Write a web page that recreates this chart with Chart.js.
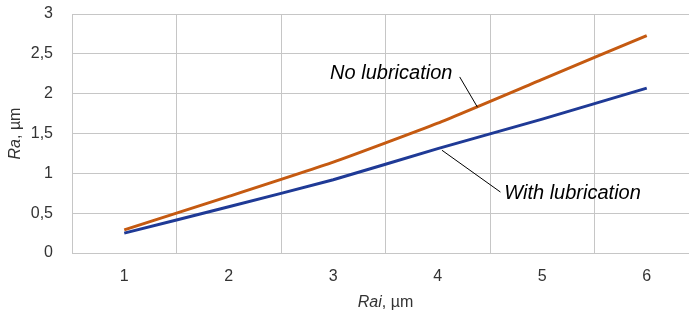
<!DOCTYPE html>
<html>
<head>
<meta charset="utf-8">
<script src="https://cdn.jsdelivr.net/npm/chart.js@4"></script>
<style>
  html, body { margin: 0; padding: 0; background: #fff; overflow: hidden; }
  #wrap { position: relative; width: 700px; height: 321px; }
</style>
</head>
<body>
<div id="wrap"><canvas id="grafica"></canvas></div>
<script>
// data
var rai = ['1', '2', '3', '4', '5', '6'];
var noLubrication = [0.29, 0.71, 1.14, 1.63, 2.18, 2.73];
var withLubrication = [0.25, 0.58, 0.92, 1.31, 1.68, 2.07];
var yTicks = [0, 0.5, 1, 1.5, 2, 2.5, 3];

// labels on the plot, in data units (x = Rai, y = Ra)
var notes = [
  { text: 'No lubrication', x: 3.555, y: 2.26, from: [4.21, 2.21], to: [4.38, 1.83] },
  { text: 'With lubrication', x: 5.29, y: 0.75, from: [4.60, 0.765], to: [4.04, 1.29] }
];

var fuente = 'Liberation Sans, Arial, sans-serif';
var gris = '#c6c6c6';
var texto = '#333';

// italic symbol + plain unit, centred on (x, y)
function tituloMixto(ctx, x, y, sym, unit) {
  ctx.font = 'italic 16px ' + fuente;
  var w1 = ctx.measureText(sym).width;
  ctx.font = '16px ' + fuente;
  var w2 = ctx.measureText(unit).width;
  var x0 = x - (w1 + w2) / 2;
  ctx.textAlign = 'left';
  ctx.textBaseline = 'middle';
  ctx.fillStyle = texto;
  ctx.font = 'italic 16px ' + fuente;
  ctx.fillText(sym, x0, y);
  ctx.font = '16px ' + fuente;
  ctx.fillText(unit, x0 + w1, y);
}

var notasPlugin = {
  id: 'notas',
  afterDatasetsDraw: function(chart) {
    var ctx = chart.ctx;
    var sx = chart.scales.x, sy = chart.scales.y;
    var area = chart.chartArea;
    ctx.save();
    notes.forEach(function(n) {
      ctx.strokeStyle = '#000';
      ctx.lineWidth = 1;
      ctx.beginPath();
      ctx.moveTo(sx.getPixelForValue(n.from[0] - 1), sy.getPixelForValue(n.from[1]));
      ctx.lineTo(sx.getPixelForValue(n.to[0] - 1), sy.getPixelForValue(n.to[1]));
      ctx.stroke();
      ctx.fillStyle = '#000';
      ctx.font = 'italic 20px ' + fuente;
      ctx.textAlign = 'center';
      ctx.textBaseline = 'middle';
      ctx.fillText(n.text, sx.getPixelForValue(n.x - 1), sy.getPixelForValue(n.y));
    });
    // axis titles
    tituloMixto(ctx, (area.left + area.right) / 2, area.bottom + 50, 'Rai', ', µm');
    ctx.translate(16, (area.top + area.bottom) / 2);
    ctx.rotate(-Math.PI / 2);
    tituloMixto(ctx, 0, 0, 'Ra', ', µm');
    ctx.restore();
  }
};

var ctx = document.getElementById('grafica').getContext('2d');
var chart = new Chart(ctx, {
  type: 'line',
  data: {
    labels: rai,
    datasets: [{
      label: 'No lubrication',
      data: noLubrication,
      borderColor: '#C55A11',
      borderWidth: 3,
      pointRadius: 0,
      tension: 0.15
    }, {
      label: 'With lubrication',
      data: withLubrication,
      borderColor: '#1F3A96',
      borderWidth: 3,
      pointRadius: 0,
      tension: 0.15
    }]
  },
  options: {
    responsive: true,
    maintainAspectRatio: false,
    animation: false,
    layout: { padding: { top: 14, right: 1, left: 0, bottom: 0 } },
    plugins: { legend: { display: false }, tooltip: { enabled: false } },
    scales: {
      x: {
        offset: true,
        grid: { color: gris, offset: true, drawTicks: false },
        border: { color: gris },
        ticks: { color: texto, font: { family: fuente, size: 16 }, padding: 14 },
        afterFit: function(s) { s.height = 68; }
      },
      y: {
        min: 0,
        max: 3,
        afterBuildTicks: function(s) { s.ticks = yTicks.map(function(v) { return { value: v }; }); },
        grid: { color: gris, drawTicks: false },
        border: { color: gris },
        ticks: {
          color: texto,
          font: { family: fuente, size: 16 },
          padding: 19,
          callback: function(v) { return String(v).replace('.', ','); }
        },
        afterFit: function(s) { s.width = 72; s.paddingTop = 0; s.paddingBottom = 0; }
      }
    }
  },
  plugins: [notasPlugin]
});
</script>
</body>
</html>
